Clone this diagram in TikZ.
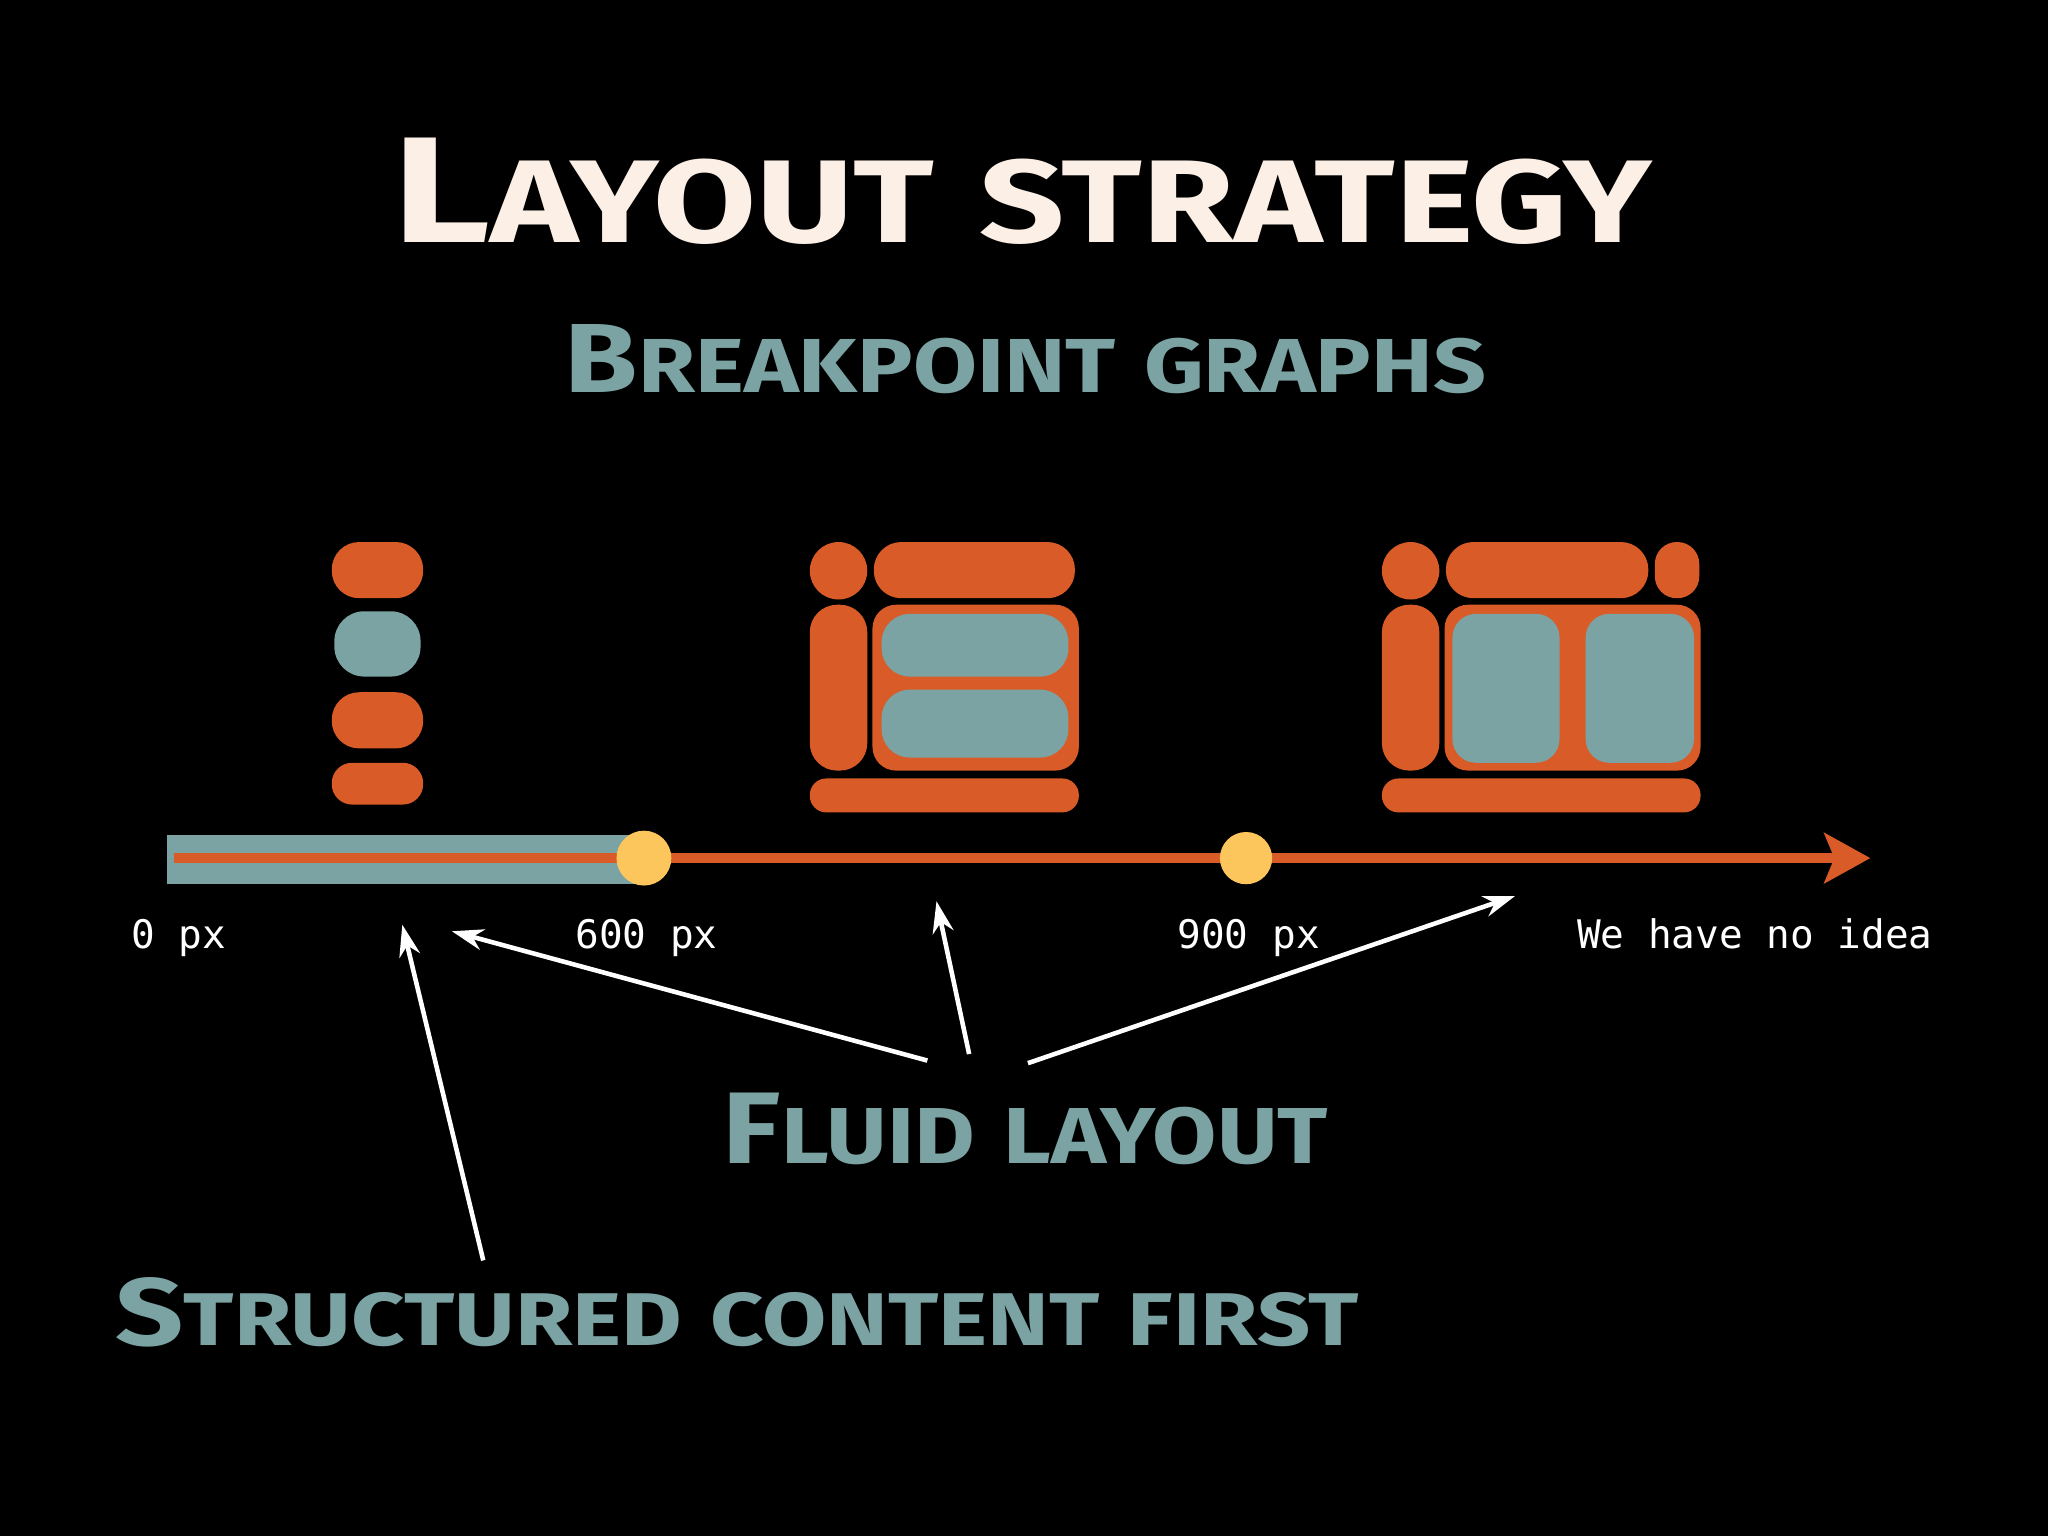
\documentclass[tikz,border=0pt]{standalone}
\usepackage{fontspec}
\usepackage{graphicx}
\setmainfont{Fira Sans}
\newfontfamily\monof{DejaVu Sans Mono}
\usetikzlibrary{arrows.meta}
\definecolor{cream}{HTML}{FBEFE6}
\definecolor{teal}{HTML}{7BA3A3}
\definecolor{orng}{HTML}{D95B27}
\definecolor{yel}{HTML}{FCC65C}
\newcommand\sm[1]{\scalebox{0.78}{#1}}
\tikzset{
 ob/.style={fill=orng,rounded corners=6.7pt},
 tb/.style={fill=teal,rounded corners=6.7pt},
 ttl/.style={inner sep=0,anchor=south west},
 lbl/.style={text=white,font=\monof\fontsize{11.2pt}{13pt}\selectfont,inner sep=0},
 ar/.style={draw=white,line width=1.3pt,-{Stealth[length=9pt,width=6pt]}}
}
\begin{document}
\begin{tikzpicture}[x=0.01306cm,y=-0.01306cm]
\fill[black] (0,0) rectangle (1568,1176);
\useasboundingbox (0,0) rectangle (1568,1176);
% titles
\node[ttl,text=cream] (t1) at (300,188) {\resizebox{12.6cm}{1.045cm}{\bfseries L\sm{AYOUT} \sm{STRATEGY}}};
\node[ttl,text=teal] (t2) at (432,302) {\resizebox{9.21cm}{0.68cm}{\bfseries B\sm{REAKPOINT} \sm{GRAPHS}}};
\node[ttl,text=teal] (t3) at (553,892) {\resizebox{6.05cm}{0.705cm}{\bfseries F\sm{LUID} \sm{LAYOUT}}};
\node[ttl,text=teal] (t4) at (88,1032) {\resizebox{12.43cm}{0.68cm}{\bfseries S\sm{TRUCTURED} \sm{CONTENT} \sm{FIRST}}};
% left column
\fill[ob,rounded corners=7.8pt] (254,415) rectangle (324,458);
\fill[tb,rounded corners=8.5pt] (256,468) rectangle (322,518);
\fill[ob,rounded corners=7.8pt] (254,530) rectangle (324,573);
\fill[ob,rounded corners=5.8pt] (254,584) rectangle (324,616);
% middle
\fill[orng] (642,437) circle (22);
\fill[ob,rounded corners=7.8pt] (669,415) rectangle (823,458);
\fill[ob,rounded corners=7.8pt] (620,463) rectangle (664,590);
\fill[ob] (668,463) rectangle (826,590);
\fill[tb,rounded corners=8pt] (675,470) rectangle (818,518);
\fill[tb,rounded corners=8pt] (675,528) rectangle (818,580);
\fill[ob,rounded corners=4.7pt] (620,596) rectangle (826,622);
% right
\fill[orng] (1080,437) circle (22);
\fill[ob,rounded corners=7.8pt] (1107,415) rectangle (1262,458);
\fill[ob,rounded corners=6.2pt] (1267,415) rectangle (1301,458);
\fill[ob,rounded corners=7.8pt] (1058,463) rectangle (1102,590);
\fill[ob] (1106,463) rectangle (1302,590);
\fill[tb] (1112,470) rectangle (1194,584);
\fill[tb] (1214,470) rectangle (1297,584);
\fill[ob,rounded corners=4.7pt] (1058,596) rectangle (1302,622);
% timeline
\fill[teal] (128,639) rectangle (495,677);
\coordinate (ls) at (133,657);
\coordinate (le) at (1432,657);
\draw[orng,line width=1.05mm,-{Stealth[length=4.6mm,width=5mm,inset=1mm]}] (ls) -- (le);
\fill[yel] (493,657) circle (21) node (y1) {};
\fill[yel] (954,657) circle (20) node (y2) {};
% labels
\node[lbl,anchor=base west] (l0) at (100,726) {0 px};
\node[lbl,anchor=base west] (l6) at (440,726) {600 px};
\node[lbl,anchor=base west] (l9) at (901,726) {900 px};
\node[lbl,anchor=base west] (lw) at (1207,726) {We have no idea};
% arrows
\coordinate (a1s) at (370,965); \coordinate (a1e) at (308,708);
\coordinate (a2s) at (710,812); \coordinate (a2e) at (346,713);
\coordinate (a3s) at (742,807); \coordinate (a3e) at (717,690);
\coordinate (a4s) at (787,814); \coordinate (a4e) at (1160,686);
\draw[ar] (a1s) -- (a1e);
\draw[ar] (a2s) -- (a2e);
\draw[ar] (a3s) -- (a3e);
\draw[ar] (a4s) -- (a4e);
\end{tikzpicture}
\end{document}
